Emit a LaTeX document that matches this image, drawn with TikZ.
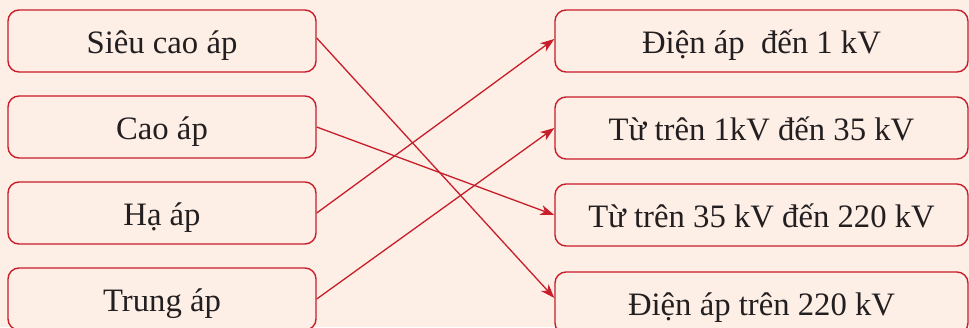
\documentclass[tikz,border=0pt]{standalone}
\usepackage{fontspec}
\setmainfont{Liberation Serif}
\usetikzlibrary{arrows.meta}
\definecolor{bgc}{RGB}{253,239,230}
\definecolor{redc}{RGB}{200,30,42}
\definecolor{txtc}{RGB}{35,31,32}
\begin{document}
\begin{tikzpicture}[x=1pt,y=-1pt,
  box/.style={draw=redc,line width=1.4pt,rounded corners=11pt,fill=bgc,
    minimum height=62pt,inner sep=0pt,text height=30pt,text depth=6pt,
    font=\fontsize{32.7}{38}\selectfont,text=txtc},
  lbox/.style={box,minimum width=308pt},
  rbox/.style={box,minimum width=413pt},
  conn/.style={draw=redc,line width=1.3pt,-{Stealth[length=14pt,width=10pt,inset=4pt]}}]
\useasboundingbox (0,0) rectangle (969,327);
\clip (0,0) rectangle (969,327);
\fill[bgc] (0,0) rectangle (969,327);
\node[lbox] (l1) at (162,41) {Siêu cao áp};
\node[lbox] (l2) at (162,127) {Cao áp};
\node[lbox] (l3) at (162,213) {Hạ áp};
\node[lbox] (l4) at (162,299) {Trung áp};
\node[rbox] (r1) at (761.5,41) {Điện áp\ \ đến 1 kV};
\node[rbox] (r2) at (761.5,128) {Từ trên 1kV đến 35 kV};
\node[rbox] (r3) at (761.5,215) {Từ trên 35 kV đến 220 kV};
\node[rbox] (r4) at (761.5,303) {Điện áp trên 220 kV};
\draw[conn] ([yshift=3pt]l1.east) -- ([yshift=5pt]r4.west);
\draw[conn] (l2.east) -- (r3.west);
\draw[conn] (l3.east) -- ([yshift=2pt]r1.west);
\draw[conn] (l4.east) -- (r2.west);
\end{tikzpicture}
\end{document}
